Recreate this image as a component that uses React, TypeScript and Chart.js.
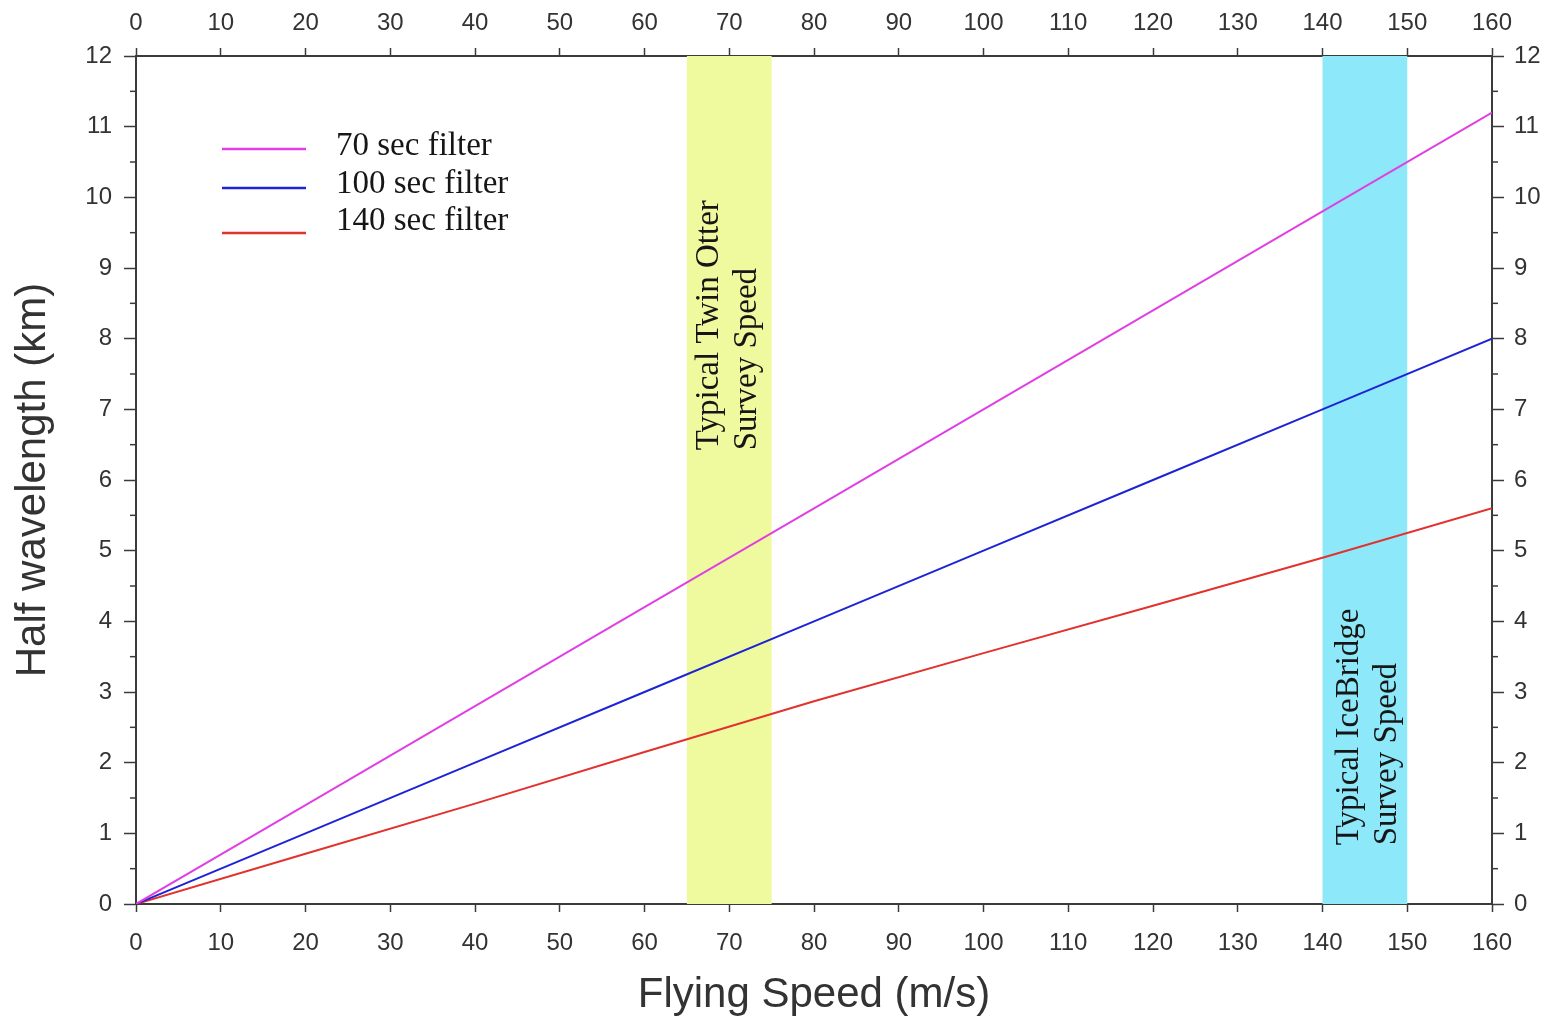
import React, { useEffect, useRef } from 'react';
import { Chart, registerables } from 'chart.js';

Chart.register(...registerables);

// ---- Data ----
const speeds = [0, 20, 40, 60, 80, 100, 120, 140, 160];
const halfWave70 = [0, 1.4, 2.8, 4.2, 5.6, 7.0, 8.4, 9.8, 11.2];
const halfWave100 = [0, 1.0, 2.0, 3.0, 4.0, 5.0, 6.0, 7.0, 8.0];
const halfWave140 = [0, 0.71, 1.42, 2.15, 2.87, 3.55, 4.22, 4.9, 5.6];
const seriesLabels = ['70 sec filter', '100 sec filter', '140 sec filter'];
const seriesColors = ['#e040e3', '#1c24d6', '#e2322e'];

const bandRanges = [
  [65, 75],
  [140, 150],
];
const bandLabels = [
  ['Typical Twin Otter', 'Survey Speed'],
  ['Typical IceBridge', 'Survey Speed'],
];
const bandColors = ['#effa9f', '#8de9f9'];

const yMinorTicks = [0.5, 1.5, 2.5, 3.5, 4.5, 5.5, 6.5, 7.5, 8.5, 9.5, 10.5, 11.5];

const xTitle = 'Flying Speed (m/s)';
const yTitle = 'Half wavelength (km)';

// ---- Styles ----
const axisColor = '#3b3b3b';
const labelColor = '#333333';
const sansFamily = '"Liberation Sans", Arial, Helvetica, sans-serif';
const serifFamily = '"Liberation Serif", "Times New Roman", serif';
const tickFont = { family: sansFamily, size: 24 };
const titleFont = { family: sansFamily, size: 42 };
const serifSize = 33;

// label placement for the rotated band texts (start value on y, pixel offsets from band centre)
const bandTextLayout = [
  { startY: 6.42, offsets: [-11, 27] },
  { startY: 0.83, offsets: [-7, 31] },
];

const legendLayout = {
  lineX0: 222,
  lineX1: 306,
  lineY: [149, 188, 233],
  textX: 336,
  textBaseline: [155, 193, 230],
};

const bandsPlugin = {
  id: 'bands',
  beforeDatasetsDraw(chart: any) {
    const { ctx, chartArea } = chart;
    const xs = chart.scales.x;
    ctx.save();
    ctx.beginPath();
    ctx.rect(chartArea.left, chartArea.top, chartArea.right - chartArea.left, chartArea.bottom - chartArea.top);
    ctx.clip();
    bandRanges.forEach((r, i) => {
      const x0 = xs.getPixelForValue(r[0]);
      const x1 = xs.getPixelForValue(r[1]);
      ctx.fillStyle = bandColors[i];
      ctx.fillRect(x0, chartArea.top, x1 - x0, chartArea.bottom - chartArea.top);
    });
    ctx.restore();
  },
  afterDatasetsDraw(chart: any) {
    const { ctx } = chart;
    const xs = chart.scales.x;
    const ys = chart.scales.y;
    ctx.save();
    ctx.fillStyle = '#161616';
    ctx.font = `${serifSize}px ${serifFamily}`;
    ctx.textAlign = 'left';
    ctx.textBaseline = 'alphabetic';
    bandRanges.forEach((r, i) => {
      const cx = (xs.getPixelForValue(r[0]) + xs.getPixelForValue(r[1])) / 2;
      const py = ys.getPixelForValue(bandTextLayout[i].startY);
      bandLabels[i].forEach((line, j) => {
        ctx.save();
        ctx.translate(cx + bandTextLayout[i].offsets[j], py);
        ctx.rotate(-Math.PI / 2);
        ctx.fillText(line, 0, 0);
        ctx.restore();
      });
    });
    ctx.restore();
  },
};

const minorTicksPlugin = {
  id: 'minorTicks',
  afterDraw(chart: any) {
    const { ctx } = chart;
    const yl = chart.scales.y;
    const yr = chart.scales.y2;
    ctx.save();
    ctx.strokeStyle = axisColor;
    ctx.lineWidth = 1.5;
    yMinorTicks.forEach((v) => {
      const p = yl.getPixelForValue(v);
      ctx.beginPath();
      ctx.moveTo(yl.right - 6, p);
      ctx.lineTo(yl.right, p);
      ctx.stroke();
      const q = yr.getPixelForValue(v);
      ctx.beginPath();
      ctx.moveTo(yr.left, q);
      ctx.lineTo(yr.left + 6, q);
      ctx.stroke();
    });
    ctx.restore();
  },
};

const legendPlugin = {
  id: 'customLegend',
  afterDraw(chart: any) {
    const { ctx } = chart;
    ctx.save();
    ctx.font = `${serifSize}px ${serifFamily}`;
    ctx.textAlign = 'left';
    ctx.textBaseline = 'alphabetic';
    chart.data.datasets.forEach((ds: any, i: number) => {
      ctx.strokeStyle = ds.borderColor;
      ctx.lineWidth = 2.5;
      ctx.beginPath();
      ctx.moveTo(legendLayout.lineX0, legendLayout.lineY[i]);
      ctx.lineTo(legendLayout.lineX1, legendLayout.lineY[i]);
      ctx.stroke();
      ctx.fillStyle = '#161616';
      ctx.fillText(ds.label, legendLayout.textX, legendLayout.textBaseline[i]);
    });
    ctx.restore();
  },
};

function xAxis(position: string, height: number, padding: number, withTitle: boolean) {
  return {
    type: 'linear',
    position,
    min: 0,
    max: 160,
    ticks: { stepSize: 10, font: tickFont, color: labelColor, padding, maxRotation: 0, autoSkip: false },
    grid: { display: true, drawOnChartArea: false, drawTicks: true, tickLength: 8, tickColor: axisColor, tickWidth: 1.5 },
    border: { display: true, color: axisColor, width: 2 },
    title: withTitle
      ? { display: true, text: xTitle, font: titleFont, color: labelColor, padding: { top: 0, bottom: 0 } }
      : { display: false },
    afterFit: (s: any) => {
      s.height = height;
    },
  };
}

function yAxis(position: string, width: number, padding: number, withTitle: boolean) {
  return {
    type: 'linear',
    position,
    min: 0,
    max: 12,
    ticks: { stepSize: 1, font: tickFont, color: labelColor, padding, autoSkip: false },
    grid: { display: true, drawOnChartArea: false, drawTicks: true, tickLength: 12, tickColor: axisColor, tickWidth: 1.5 },
    border: { display: true, color: axisColor, width: 2 },
    title: withTitle
      ? { display: true, text: yTitle, font: titleFont, color: labelColor, padding: { top: 8, bottom: 0 } }
      : { display: false },
    afterFit: (s: any) => {
      s.width = width;
    },
  };
}

export default function App() {
  const canvasRef = useRef<HTMLCanvasElement | null>(null);

  useEffect(() => {
    if (!canvasRef.current) return;
    const series = [halfWave70, halfWave100, halfWave140];
    const chart = new Chart(canvasRef.current, {
      type: 'scatter',
      data: {
        datasets: series.map((vals, i) => ({
          label: seriesLabels[i],
          data: speeds.map((s, k) => ({ x: s, y: vals[k] })),
          showLine: true,
          borderColor: seriesColors[i],
          backgroundColor: seriesColors[i],
          borderWidth: 2,
          pointRadius: 0,
          pointHoverRadius: 0,
          tension: 0,
          xAxisID: 'x',
          yAxisID: 'y',
        })),
      },
      options: {
        responsive: false,
        animation: false,
        devicePixelRatio: 1,
        layout: { padding: 0 },
        plugins: {
          legend: { display: false },
          tooltip: { enabled: false },
        },
        scales: {
          x: xAxis('bottom', 117, 17, true),
          x2: xAxis('top', 56, 10, false),
          y: yAxis('left', 136, 12, true),
          y2: yAxis('right', 61, 10, false),
        } as any,
      },
      plugins: [bandsPlugin, minorTicksPlugin, legendPlugin],
    } as any);
    return () => chart.destroy();
  }, []);

  return (
    <div style={{ position: 'fixed', left: 0, top: 0, width: 1553, height: 1021, background: '#ffffff' }}>
      <canvas ref={canvasRef} width={1553} height={1021} style={{ display: 'block' }} />
    </div>
  );
}
